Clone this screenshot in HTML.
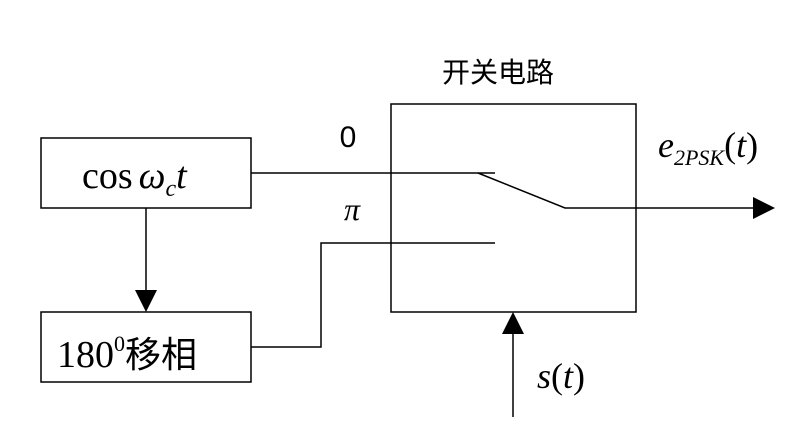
<!DOCTYPE html>
<html><head><meta charset="utf-8"><style>
html,body{margin:0;padding:0;background:#fff;width:811px;height:435px;overflow:hidden}
svg{display:block}
.s{font-family:"Liberation Serif",serif}
.c{font-family:"Liberation Sans","Noto Sans CJK SC",sans-serif}
</style></head><body>
<svg width="811" height="435" viewBox="0 0 811 435">
<g fill="none" stroke="#000" stroke-width="1.5">
<rect x="41" y="138" width="210" height="70"/>
<rect x="41" y="312" width="210" height="70"/>
<rect x="391" y="104" width="245" height="208"/>
<line x1="146" y1="208" x2="146" y2="292"/>
<polyline points="251,173 495,173"/>
<polyline points="478,173 565,208 755,208"/>
<polyline points="251,347 321,347 321,243 495,243"/>
<line x1="513" y1="417" x2="513" y2="332"/>
</g>
<g fill="#000">
<polygon points="135,290 157,290 146,312"/>
<polygon points="753,197 753,219 775,208"/>
<polygon points="502,334 524,334 513,312"/>
</g>
<text class="c" x="498" y="82" font-size="28" text-anchor="middle">开关电路</text>
<text class="c" x="348" y="147" font-size="30" text-anchor="middle">0</text>
<text class="s" x="352" y="220" font-size="32" font-style="italic" text-anchor="middle">π</text>
<text class="s" x="82" y="188" font-size="38">cos<tspan font-style="italic" dx="6">ω</tspan><tspan font-style="italic" font-size="24" dy="8">c</tspan><tspan font-style="italic" dy="-8">t</tspan></text>
<text x="57" y="367" font-size="38"><tspan class="s">180</tspan><tspan class="s" font-size="22" dy="-16">0</tspan><tspan class="c" dy="16" font-size="36">移相</tspan></text>
<text class="s" x="658" y="157" font-size="36" font-style="italic">e<tspan font-size="22" dy="8">2</tspan><tspan font-size="22">PSK</tspan><tspan dy="-8" font-style="normal">(</tspan>t<tspan font-style="normal">)</tspan></text>
<text class="s" x="537" y="388" font-size="36" font-style="italic">s<tspan font-style="normal">(</tspan>t<tspan font-style="normal">)</tspan></text>
</svg>
</body></html>
